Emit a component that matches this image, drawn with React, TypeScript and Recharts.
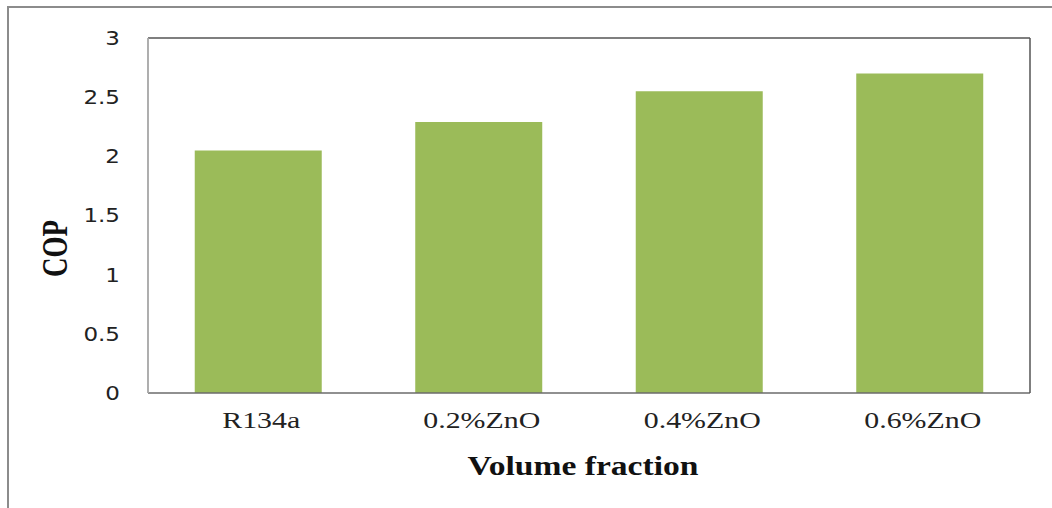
import React from 'react';
import { BarChart, Bar, XAxis, YAxis, Label, ReferenceLine } from 'recharts';

const categories = ['R134a', '0.2%ZnO', '0.4%ZnO', '0.6%ZnO'];
const copValues = [2.05, 2.29, 2.55, 2.7];
const yTicks = [0, 0.5, 1, 1.5, 2, 2.5, 3];

const data = categories.map((name, i) => ({ name, cop: copValues[i] }));

const serif = '"Liberation Serif", "Times New Roman", serif';
const sans = '"DejaVu Sans", Verdana, sans-serif';

const YTick = (props: any) => {
  const { x, y, payload } = props;
  return (
    <text
      transform={`translate(${x},${y}) scale(1.15,1)`}
      textAnchor="end"
      dominantBaseline="central"
      fontFamily={sans}
      fontSize={20}
      fill="#222"
    >
      {payload.value}
    </text>
  );
};

const XTick = (props: any) => {
  const { x, y, payload } = props;
  return (
    <text
      transform={`translate(${x + 3},${y}) scale(1.3,1)`}
      textAnchor="middle"
      fontFamily={serif}
      fontSize={23}
      fill="#222"
    >
      {payload.value}
    </text>
  );
};

const XTitle = (props: any) => {
  const { x, y, width } = props.viewBox;
  return (
    <text
      transform={`translate(${x + width / 2 - 6},${y + 82}) scale(1.2,1)`}
      textAnchor="middle"
      fontFamily={serif}
      fontWeight="bold"
      fontSize={28}
      fill="#111"
    >
      Volume fraction
    </text>
  );
};

const YTitle = (props: any) => {
  const { y, height } = props.viewBox;
  return (
    <text
      transform={`translate(67,${y + height / 2 + 33}) scale(1.3,1) rotate(-90)`}
      textAnchor="middle"
      fontFamily={serif}
      fontWeight="bold"
      fontSize={27}
      fill="#111"
    >
      COP
    </text>
  );
};

export default function App() {
  return (
    <div style={{ position: 'absolute', left: 0, top: 0, width: 1052, height: 508, background: '#fff' }}>
      <div
        style={{
          position: 'absolute',
          left: 7,
          top: 6,
          width: 1045,
          height: 502,
          borderLeft: '2px solid #8c8c8c',
          borderTop: '2px solid #8c8c8c',
          boxSizing: 'border-box',
        }}
      />
      <div style={{ position: 'absolute', left: 0, top: 0 }}>
        <BarChart
          width={1052}
          height={508}
          data={data}
          margin={{ top: 38, right: 21, bottom: 0, left: 0 }}
          barCategoryGap="21.2%"
        >
          <XAxis
            dataKey="name"
            height={115}
            axisLine={{ stroke: '#6b6b6b', strokeWidth: 1.5 }}
            tickLine={false}
            tickSize={0}
            tickMargin={35}
            tick={<XTick />}
            interval={0}
          >
            <Label content={<XTitle />} />
          </XAxis>
          <YAxis
            domain={[0, 3]}
            ticks={yTicks}
            width={148}
            axisLine={{ stroke: '#a6a6a6', strokeWidth: 1.8 }}
            tickLine={false}
            tickSize={0}
            tickMargin={28}
            tick={<YTick />}
            interval={0}
          >
            <Label content={<YTitle />} />
          </YAxis>
          <YAxis
            yAxisId="right"
            orientation="right"
            domain={[0, 3]}
            width={1}
            tick={false}
            tickLine={false}
            axisLine={{ stroke: '#555', strokeWidth: 1.5 }}
          />
          <ReferenceLine y={3} stroke="#555" strokeWidth={1.5} ifOverflow="visible" />
          <Bar dataKey="cop" fill="#9BBB59" isAnimationActive={false} />
        </BarChart>
      </div>
    </div>
  );
}
